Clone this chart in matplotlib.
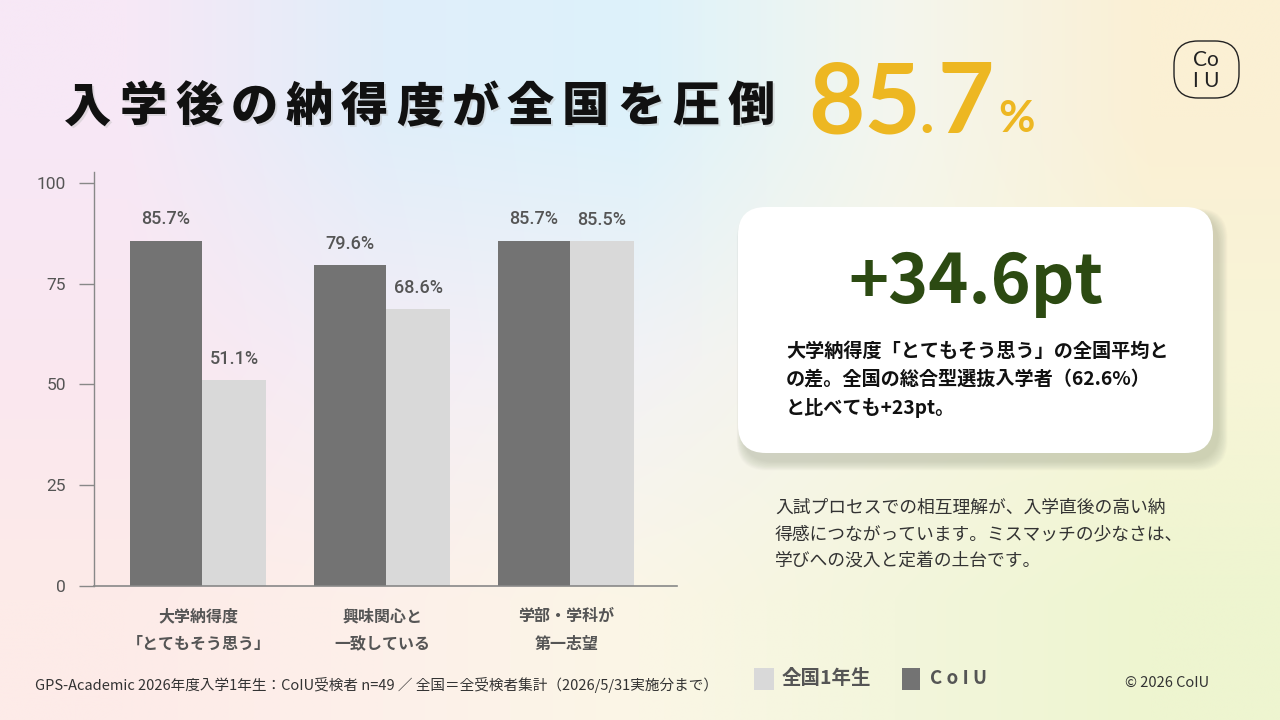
import numpy as np
import matplotlib
matplotlib.use("Agg")
import matplotlib.pyplot as plt
from matplotlib.colors import to_rgb
from matplotlib.patches import FancyBboxPatch, Rectangle

plt.rcParams['font.family'] = ['Noto Sans CJK JP', 'DejaVu Sans']

# data
categories = ['大学納得度\n「とてもそう思う」', '興味関心と\n一致している', '学部・学科が\n第一志望']
coiu = [85.7, 79.6, 85.7]
national = [51.1, 68.6, 85.5]
yticks = [0, 25, 50, 75, 100]

DARK = '#737373'
LIGHT = '#d9d9d9'
GOLD = '#edb722'
GREEN = '#2c4a12'

fig = plt.figure(figsize=(12.8, 7.2), dpi=100)

# background layer in pixel coordinates
bg = fig.add_axes([0, 0, 1, 1], zorder=0)
bg.set_xlim(0, 1280)
bg.set_ylim(720, 0)
bg.axis('off')
grid = [['#f7e8f6', '#e0eefa', '#ddf2fb', '#f4f6ee', '#fbf0d4'],
        ['#fae7f0', '#f4edf6', '#f2f2f5', '#f7f6e6', '#f8f5d8'],
        ['#fdebe8', '#fdf0ea', '#fbf6e6', '#f3f6dc', '#eef5d0']]
img = np.array([[to_rgb(c) for c in row] for row in grid])
bg.imshow(img, extent=(0, 1280, 720, 0), interpolation='bilinear', aspect='auto', zorder=0)

# title, letter-spaced
title = '入学後の納得度が全国を圧倒'
for i, ch in enumerate(title):
    x = 88 + i * 55.3
    bg.text(x + 2, 109, ch, fontsize=34, fontweight='black', color='#bbbbbb',
            ha='center', va='center', alpha=0.4, zorder=2)
    bg.text(x, 107, ch, fontsize=34, fontweight='black', color='#111111',
            ha='center', va='center', zorder=3)

gold_font = dict(color=GOLD, family=['Lato', 'DejaVu Sans'], fontweight='bold', va='baseline', zorder=3)
bg.text(808, 133, '85', fontsize=70, ha='left', **gold_font)
bg.text(919, 133, '.', fontsize=44, ha='left', **gold_font)
bg.text(938, 133, '7', fontsize=70, ha='left', **gold_font)
bg.text(998, 132, '%', fontsize=32, ha='left', **gold_font)

# logo
bg.add_patch(FancyBboxPatch((1174, 41), 65, 57, boxstyle='round,pad=0,rounding_size=24',
                            fc='none', ec='#222222', lw=1.0, zorder=3))
bg.text(1206, 60, 'Co', fontsize=15, ha='center', va='center', color='#222222',
        family=['Lato', 'DejaVu Sans'], zorder=3)
bg.text(1206, 81, 'I U', fontsize=15, ha='center', va='center', color='#222222',
        family=['Lato', 'DejaVu Sans'], zorder=3)

# card with soft shadow
for k in range(16, 0, -1):
    bg.add_patch(FancyBboxPatch((738 + 5 - k * 0.4, 207 + 8 - k * 0.4), 475 + k * 1.0, 246 + k * 1.0,
                                boxstyle='round,pad=0,rounding_size=30', fc='#8f967f', ec='none',
                                alpha=0.025, zorder=1))
bg.add_patch(FancyBboxPatch((738, 207), 475, 246, boxstyle='round,pad=0,rounding_size=28',
                            fc='white', ec='none', zorder=2))
bg.text(976, 303, '+34.6pt', fontsize=49, fontweight='bold', color=GREEN, ha='center', va='baseline',
        zorder=3)
card_lines = ['大学納得度「とてもそう思う」の全国平均と',
              'の差。全国の総合型選抜入学者（62.6%）',
              'と比べても+23pt。']
for i, line in enumerate(card_lines):
    bg.text(786, 351 + i * 28.5, line, fontsize=13.8, fontweight='bold', color='#111111',
            ha='left', va='center', zorder=3)

note_lines = ['入試プロセスでの相互理解が、入学直後の高い納',
              '得感につながっています。ミスマッチの少なさは、',
              '学びへの没入と定着の土台です。']
for i, line in enumerate(note_lines):
    bg.text(775, 508 + i * 26.5, line, fontsize=12.8, color='#333333', ha='left', va='center', zorder=3)

# footer
bg.text(35, 685, 'GPS-Academic 2026年度入学1年生：CoIU受検者 n=49 ／ 全国＝全受検者集計（2026/5/31実施分まで）',
        fontsize=10.5, color='#333333', ha='left', va='center', zorder=3)
bg.add_patch(Rectangle((754, 668), 20, 22, fc=LIGHT, ec='none', zorder=3))
bg.text(782, 679, '全国1年生', fontsize=14, fontweight='bold', color='#555555', ha='left', va='center', zorder=3)
bg.add_patch(Rectangle((902, 668), 18, 22, fc=DARK, ec='none', zorder=3))
bg.text(930, 679, 'C o I U', fontsize=13.5, fontweight='bold', color='#555555', ha='left', va='center', zorder=3)
bg.text(1125, 683, '© 2026 CoIU', fontsize=10.5, color='#333333', ha='left', va='center', zorder=3)

# bar chart
ax = fig.add_axes([93.5 / 1280, 1 - 586 / 720, (677 - 93.5) / 1280, (586 - 172) / 720], zorder=1)
ax.patch.set_alpha(0)
x = np.arange(len(categories))
w_dark = 0.391
w_light = 0.348
b1 = ax.bar(x - w_dark / 2, coiu, width=w_dark, color=DARK)
b2 = ax.bar(x + w_light / 2, national, width=w_light, color=LIGHT)
for bars, vals in ((b1, coiu), (b2, national)):
    for rect, v in zip(bars, vals):
        ax.annotate(f'{v:.1f}%', (rect.get_x() + rect.get_width() / 2, v), xytext=(0, 9),
                    textcoords='offset points', ha='center', va='bottom', fontsize=13,
                    color='#555555', family=['Roboto', 'DejaVu Sans'], fontweight='medium')

ax.set_xlim((93.5 - 202) / 184, (677 - 202) / 184)
ax.set_ylim(0, 102.7)
ax.set_yticks(yticks)
ax.set_yticklabels([str(t) for t in yticks], fontsize=12.5, color='#555555', family=['Roboto', 'DejaVu Sans'])
ax.set_xticks(x - 0.02)
ax.set_xticklabels(categories, fontsize=11.5, fontweight='bold', color='#555555', linespacing=1.9)
ax.tick_params(axis='y', length=11, width=1, color='#888888', pad=9)
ax.tick_params(axis='x', length=0, pad=16)
for s in ('top', 'right'):
    ax.spines[s].set_visible(False)
ax.spines['left'].set_color('#888888')
ax.spines['bottom'].set_color('#888888')
ax.spines['left'].set_linewidth(1)
ax.spines['bottom'].set_linewidth(1.2)

fig.savefig('out.png', dpi=100)
